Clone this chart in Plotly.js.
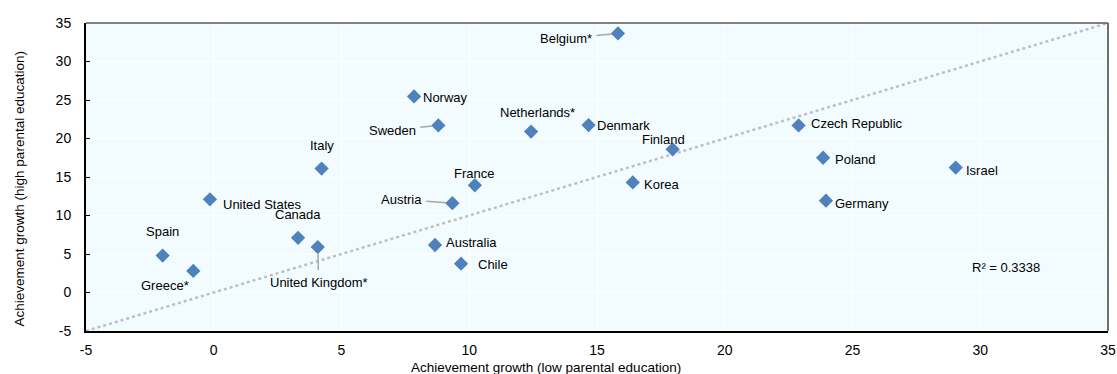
<!DOCTYPE html>
<html>
<head>
<meta charset="utf-8">
<script src="https://cdn.plot.ly/plotly-3.0.1.min.js"></script>
<style>html,body{margin:0;padding:0;background:#fff;}#chart{width:1117px;height:374px;}</style>
</head>
<body>
<div id="chart"></div>
<script>
// Data
const countries = ["Spain","Greece*","United States","Canada","United Kingdom*","Italy","Norway","Sweden","Netherlands*","Denmark","Belgium*","Finland","Korea","France","Austria","Australia","Chile","Czech Republic","Poland","Germany","Israel"];
const lowEdu  = [-2.0,-0.8,-0.15,3.3,4.07,4.22,7.84,8.79,12.42,14.67,15.82,17.96,16.4,10.22,9.34,8.66,9.68,22.89,23.85,23.96,29.04];
const highEdu = [4.8,2.8,12.1,7.1,5.9,16.1,25.46,21.7,20.9,21.74,33.65,18.6,14.3,13.93,11.6,6.17,3.74,21.7,17.5,11.93,16.22];
const trendX = [-5, 35];
const trendY = [-5, 35];
const rSquaredText = "R² = 0.3338";
const xTitle = "Achievement growth (low parental education)";
const yTitle = "Achievement growth (high parental education)";
const xTicks = [-5,0,5,10,15,20,25,30,35];
const yTicks = [-5,0,5,10,15,20,25,30,35];

// Label placement (pixel offsets relative to each marker)
const labelStyle = {
  "Spain":          {anchor:"center", dx:0,   dy:24},
  "Greece*":        {anchor:"center", dx:-28, dy:-15},
  "United States":  {anchor:"left",   dx:11,  dy:-5},
  "Canada":         {anchor:"center", dx:0,   dy:23},
  "United Kingdom*":{arrow:true, ax:1, ay:35},
  "Italy":          {anchor:"center", dx:0,   dy:23},
  "Norway":         {anchor:"left",   dx:7,   dy:-1},
  "Sweden":         {arrow:true, ax:-46, ay:5},
  "Netherlands*":   {anchor:"center", dx:6,   dy:19},
  "Denmark":        {anchor:"left",   dx:6,   dy:0},
  "Belgium*":       {arrow:true, ax:-52, ay:5},
  "Finland":        {anchor:"center", dx:-9,  dy:10},
  "Korea":          {anchor:"left",   dx:9,   dy:-2},
  "France":         {anchor:"center", dx:-1,  dy:12},
  "Austria":        {arrow:true, ax:-51, ay:-4},
  "Australia":      {anchor:"left",   dx:9,   dy:2},
  "Chile":          {anchor:"left",   dx:15,  dy:-1},
  "Czech Republic": {anchor:"left",   dx:10,  dy:2},
  "Poland":         {anchor:"left",   dx:10,  dy:-2},
  "Germany":        {anchor:"left",   dx:7,   dy:-3},
  "Israel":         {anchor:"left",   dx:8,   dy:-3}
};

const FONT = "Liberation Sans, Arial, sans-serif";
const annotations = countries.map((c,i) => {
  const s = labelStyle[c];
  const base = {x: lowEdu[i], y: highEdu[i], xref:"x", yref:"y", text:c,
    font:{family:FONT, size:13, color:"#000"}};
  if (s.arrow) {
    return Object.assign(base, {showarrow:true, ax:s.ax, ay:s.ay, axref:"pixel", ayref:"pixel",
      arrowhead:0, arrowwidth:1.5, arrowcolor:"#A6A6A6", standoff:6, startstandoff:3});
  }
  return Object.assign(base, {showarrow:false, xanchor:s.anchor, yanchor:"middle", xshift:s.dx, yshift:s.dy});
});
annotations.push({x:31, y:3.3, xref:"x", yref:"y", text:rSquaredText, showarrow:false,
  xanchor:"center", yanchor:"middle", font:{family:FONT, size:13, color:"#000"}});
// axis titles (placed as in the reference, slightly off-centre)
annotations.push({x:0.45, y:-0.117, xref:"paper", yref:"paper", text:xTitle, showarrow:false,
  xanchor:"center", yanchor:"middle", font:{family:FONT, size:13.5, color:"#000"}});
annotations.push({x:-0.0646, y:0.4627, xref:"paper", yref:"paper", text:yTitle, showarrow:false,
  textangle:-90, xanchor:"center", yanchor:"middle", font:{family:FONT, size:13.5, color:"#000"}});

const traces = [
  {x:trendX, y:trendY, mode:"lines", type:"scatter", hoverinfo:"skip",
   line:{color:"#BFBFBF", width:2.5, dash:"dot"}, cliponaxis:false},
  {x:lowEdu, y:highEdu, mode:"markers", type:"scatter", text:countries,
   marker:{symbol:"diamond", size:11, color:"#4F81BD"}}
];

const layout = {
  width:1117, height:374,
  margin:{l:86, r:9, t:23, b:43},
  paper_bgcolor:"#ffffff", plot_bgcolor:"#F2FCFF",
  showlegend:false,
  font:{family:FONT, size:13, color:"#000"},
  xaxis:{range:[-5,35], tickvals:xTicks, ticktext:xTicks.map(String), showgrid:true, gridcolor:"#ffffff", gridwidth:1,
    zeroline:false, showline:true, linecolor:"#000", linewidth:2, ticks:"",
    tickfont:{family:FONT, size:14}, ticklabelstandoff:5},
  yaxis:{range:[-5,35], tickvals:yTicks, ticktext:yTicks.map(String), showgrid:true, gridcolor:"#ffffff", gridwidth:1,
    zeroline:false, showline:true, linecolor:"#000", linewidth:2, ticks:"inside", ticklen:4, tickcolor:"#000",
    tickfont:{family:FONT, size:14}, ticklabelstandoff:10},
  shapes:[
    {type:"line", xref:"paper", yref:"paper", x0:0, x1:1, y0:1, y1:1, line:{color:"#595959", width:1.5}},
    {type:"line", xref:"paper", yref:"paper", x0:1, x1:1, y0:0, y1:1, line:{color:"#404040", width:1.5}}
  ],
  annotations:annotations
};

Plotly.newPlot("chart", traces, layout, {staticPlot:true, displayModeBar:false});
</script>
</body>
</html>
